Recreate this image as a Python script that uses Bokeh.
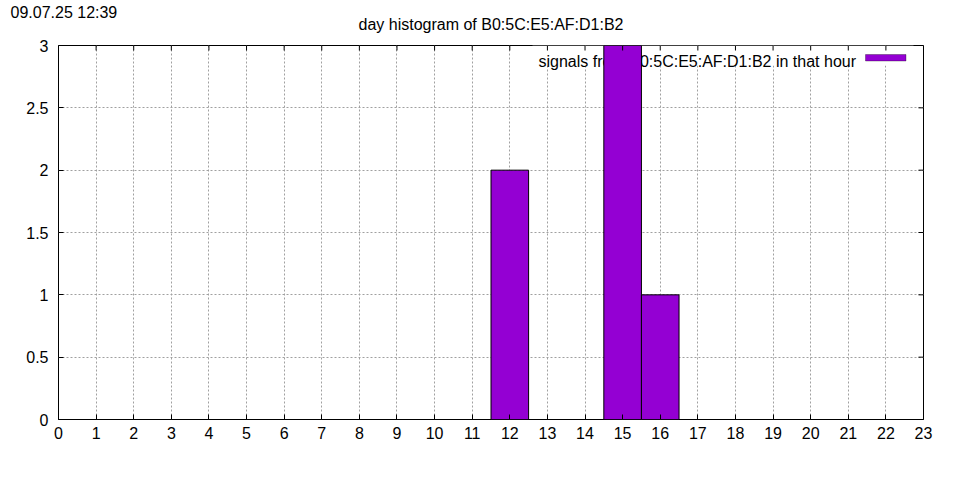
from bokeh.plotting import figure
from bokeh.models import (LinearAxis, FixedTicker, BoxAnnotation, Range1d, Grid, Title, Label)
from bokeh.embed import file_html
from bokeh.resources import INLINE
import math

# ---- data ----
hours = list(range(24))
counts = [0, 0, 0, 0, 0, 0, 0, 0, 0, 0, 0, 0, 2, 0, 0, 3, 1, 0, 0, 0, 0, 0, 0, 0]
x_ticks = list(range(24))
y_ticks = [0, 0.5, 1, 1.5, 2, 2.5, 3]
y_tick_labels = ["0", "0.5", "1", "1.5", "2", "2.5", "3"]
x_top = [3] * len(x_ticks)
y_right = [23] * len(y_ticks)
title_text = "day histogram of B0:5C:E5:AF:D1:B2"
date_text = "09.07.25 12:39"
legend_text = "signals from B0:5C:E5:AF:D1:B2 in that hour"

FONT = "Liberation Sans"
FS = "16px"
BAR = "#9400d3"

p = figure(frame_width=865, frame_height=374,
           min_border_left=58, min_border_right=37,
           min_border_top=45, min_border_bottom=61,
           x_range=Range1d(0, 23), y_range=Range1d(0, 3),
           output_backend="svg", toolbar_location=None,
           x_axis_type=None, y_axis_type=None)
p.outline_line_color = "black"
p.outline_line_width = 1
p.background_fill_color = "white"
p.border_fill_color = "white"

# date stamp (outermost title) and chart title (next to the frame)
p.title.text = date_text
p.title.align = "left"
p.title.offset = -48
p.title.standoff = -40
p.title.text_font = FONT
p.title.text_font_size = FS
p.title.text_font_style = "normal"
p.title.text_color = "black"
p.add_layout(Title(text=title_text, align="center", standoff=26,
                   text_font=FONT, text_font_size=FS, text_font_style="normal",
                   text_color="black"), "above")

xt = FixedTicker(ticks=x_ticks)
yt = FixedTicker(ticks=y_ticks)
overrides = {v: s for v, s in zip(y_ticks, y_tick_labels)}

def make_axis(ticker):
    ax = LinearAxis(ticker=ticker)
    ax.axis_line_color = None
    ax.major_tick_in = 5
    ax.major_tick_out = 0
    ax.major_tick_line_color = "black"
    ax.minor_tick_line_color = None
    ax.major_label_text_font = FONT
    ax.major_label_text_font_size = FS
    ax.major_label_text_color = "black"
    return ax

bx = make_axis(xt)
bx.major_label_standoff = 7
p.add_layout(bx, "below")
ly = make_axis(yt)
ly.major_label_standoff = 10
ly.major_label_overrides = overrides
p.add_layout(ly, "left")

for dim, tk in ((0, xt), (1, yt)):
    g = Grid(dimension=dim, ticker=tk, grid_line_color="#a0a0a0",
             grid_line_dash="2 2", grid_line_width=1)
    p.add_layout(g, "center")

# legend (drawn under the bars, like the reference)
p.add_layout(BoxAnnotation(left=474, right=855, bottom=354, top=374,
                           left_units="screen", right_units="screen",
                           bottom_units="screen", top_units="screen",
                           fill_color="white", fill_alpha=1, line_color=None,
                           level="underlay"))
p.add_layout(Label(x=797.5, y=358.3, x_units="screen", y_units="screen",
                   text=legend_text, text_font=FONT, text_font_size=FS,
                   text_align="right", text_baseline="alphabetic",
                   text_color="black", level="underlay"))
p.add_layout(BoxAnnotation(left=807, right=847.5, bottom=358.5, top=365,
                           left_units="screen", right_units="screen",
                           bottom_units="screen", top_units="screen",
                           fill_color=BAR, fill_alpha=1, line_color="black",
                           line_width=1, level="underlay"))

p.vbar(x=hours, top=counts, bottom=0, width=1,
       fill_color=BAR, line_color="black", line_width=1)

# mirrored inward ticks on top and right borders
p.ray(x=x_ticks, y=x_top, length=5, length_units="screen", angle=-math.pi / 2,
      line_color="black", line_width=1)
p.ray(x=y_right, y=y_ticks, length=5, length_units="screen", angle=math.pi,
      line_color="black", line_width=1)

open("out.html", "w").write(file_html(p, INLINE))
